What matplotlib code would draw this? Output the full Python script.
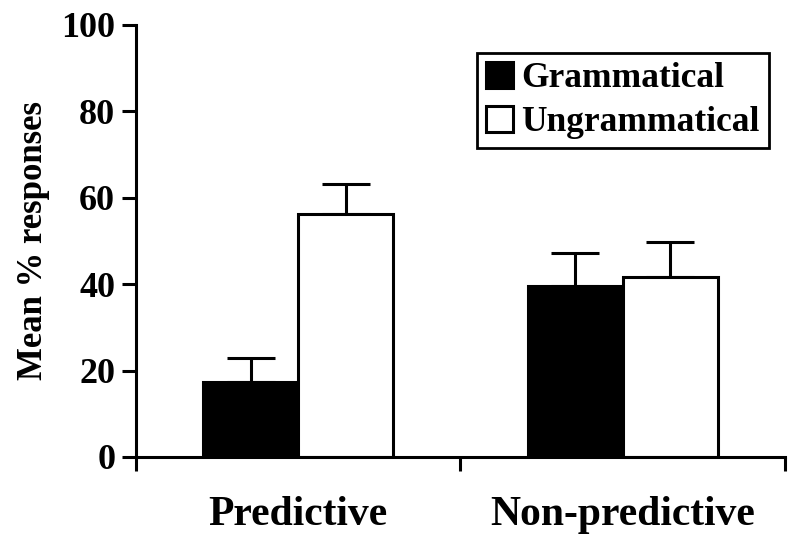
import numpy as np
import matplotlib.pyplot as plt

groups = ['Predictive', 'Non-predictive']
series = ['Grammatical', 'Ungrammatical']
grammatical = [17.3, 39.6]
ungrammatical = [56.2, 41.7]
gram_err = [5.5, 7.6]
ungram_err = [7.0, 8.0]

plt.rcParams['font.family'] = 'Liberation Serif'
plt.rcParams['font.weight'] = 'bold'

fig = plt.figure(figsize=(7.98, 5.43), dpi=100)
ax = fig.add_axes([0.1704, 0.1584, 0.8133, 0.7956])

x = np.arange(len(groups)) + 0.5
w = 0.293
lw = 2.2
ax.bar(x - w / 2, grammatical, w, color='black', edgecolor='black', linewidth=lw,
       label=series[0], zorder=2)
ax.bar(x + w / 2, ungrammatical, w, color='white', edgecolor='black', linewidth=lw,
       label=series[1], zorder=2)
ax.errorbar(x - w / 2, grammatical, yerr=[np.zeros(2), gram_err], fmt='none',
            ecolor='black', elinewidth=lw, capsize=17, capthick=lw, zorder=1)
ax.errorbar(x + w / 2, ungrammatical, yerr=[np.zeros(2), ungram_err], fmt='none',
            ecolor='black', elinewidth=lw, capsize=17, capthick=lw, zorder=1)

ax.set_xlim(0, 2)
ax.set_ylim(0, 100)
ax.set_yticks(range(0, 101, 20))
ax.set_xticks([0, 1, 2])
ax.set_xticklabels([])
ax.set_xticks(x, minor=True)
ax.set_xticklabels(groups, minor=True, fontsize=30, fontweight='bold')
ax.tick_params(axis='x', which='minor', length=0, pad=28)
ax.tick_params(axis='x', which='major', length=10, width=lw, direction='out')
ax.tick_params(axis='y', length=10, width=lw, direction='out', labelsize=26, pad=5)
for lab in ax.get_yticklabels():
    lab.set_fontweight('bold')

for s in ['top', 'right']:
    ax.spines[s].set_visible(False)
for s in ['left', 'bottom']:
    ax.spines[s].set_linewidth(lw)

ax.set_ylabel('Mean % responses', fontsize=25, fontweight='bold', labelpad=8)

leg = ax.legend(loc='upper right', bbox_to_anchor=(0.975, 0.935), fontsize=25.5,
                frameon=True, fancybox=False, framealpha=1, handlelength=0.75,
                handleheight=0.75, handletextpad=0.25, borderpad=0.25,
                labelspacing=0.3, borderaxespad=0)
leg.get_frame().set_edgecolor('black')
leg.get_frame().set_linewidth(2)
for t in leg.get_texts():
    t.set_fontweight('bold')

plt.savefig('out.png', dpi=100)
plt.close()
